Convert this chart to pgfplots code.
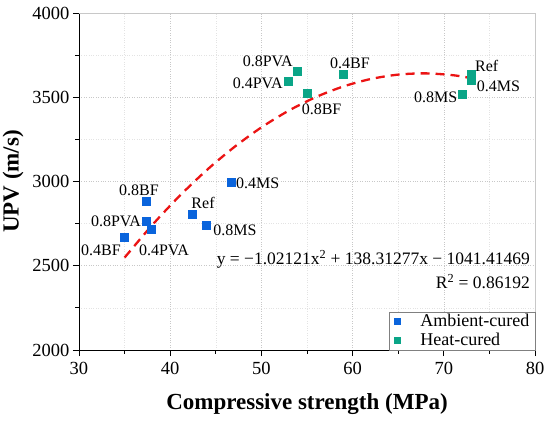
\documentclass[border=0pt]{standalone}
\usepackage{pgfplots}
\pgfplotsset{compat=1.18}
\usepackage{fontspec}
\setmainfont{Liberation Serif}
\usetikzlibrary{calc}
\definecolor{ambblue}{RGB}{10,100,220}
\definecolor{heatgreen}{RGB}{10,165,135}
\definecolor{fitred}{RGB}{235,20,20}
\definecolor{gridgray}{RGB}{200,200,200}
\begin{document}
\begin{tikzpicture}[x=1pt,y=1pt]
\begin{axis}[
  scale only axis, width=456pt, height=337pt,
  xmin=30, xmax=80, ymin=2000, ymax=4000,
  xtick={30,40,...,80}, ytick={2000,2500,...,4000},
  minor x tick num=1, minor y tick num=1,
  tick align=outside, tick pos=left,
  major tick length=6pt, minor tick length=3.5pt,
  every tick/.style={black, line width=0.8pt},
  grid=both,
  major grid style={gridgray, dotted, line width=0.6pt},
  minor grid style={gridgray!50, dotted, line width=0.5pt},
  axis line style={line width=0.9pt},
  axis x line*=bottom, axis y line*=left,
  /pgf/number format/assume math mode=true,
  /pgf/number format/set thousands separator={},
  ticklabel style={font=\fontsize{18.5}{20}\selectfont},
  xticklabel style={yshift=-3pt},
  xlabel={\textbf{Compressive strength (MPa)}},
  ylabel={\textbf{UPV (m/s)}},
  label style={font=\fontsize{23}{25}\selectfont},
  xlabel style={yshift=-12pt},
  ylabel style={yshift=2pt},
  legend style={at={(rel axis cs:1,0)}, anchor=south east, draw=gray, line width=0.5pt,
    font=\fontsize{18}{20}\selectfont, row sep=4pt, inner xsep=5pt, inner ysep=2pt,
    fill=white, nodes={inner sep=0.5pt}},
  legend cell align=left,
  legend image code/.code={\draw[#1, mark size=3pt] plot coordinates {(0.55cm,0cm)};},
  clip=false,
]
\draw[gridgray, line width=0.8pt] (rel axis cs:0,1) -- (rel axis cs:1,1) -- (rel axis cs:1,0);
\addplot[only marks, mark=square*, mark size=4pt, color=ambblue, mark options={draw=none, fill=ambblue}] coordinates {
 (35.0,2670) (37.4,2762) (37.9,2718) (37.4,2885) (42.4,2808) (43.9,2738) (46.7,2993)
};
\addlegendentry{\hspace{20pt}Ambient-cured}
\addplot[only marks, mark=square*, mark size=4pt, color=heatgreen, mark options={draw=none, fill=heatgreen}] coordinates {
 (53.9,3655) (52.9,3597) (55.0,3525) (59.0,3638) (72.0,3518) (73.0,3637) (73.0,3602)
};
\addlegendentry{\hspace{20pt}Heat-cured}
\addplot[fitred, line width=2.3pt, dash pattern=on 9pt off 6pt, smooth, forget plot] coordinates {
 (35,2548.55) (38,2739.84) (41,2912.76) (44,3067.28) (47,3203.43) (50,3321.20) (53,3420.58)
 (56,3501.59) (59,3564.21) (62,3608.45) (65,3634.30) (68,3641.78) (71,3630.87) (73,3613.39)
};
\coordinate (ll) at (rel axis cs:0,0);
\coordinate (ur) at (rel axis cs:1,1);
\begin{scope}[every node/.style={font=\fontsize{16}{18}\selectfont, inner sep=0pt}]
\node at (axis cs:36.58,2950) {0.8BF};
\node at (axis cs:34.06,2766) {0.8PVA};
\node at (axis cs:32.41,2593) {0.4BF};
\node at (axis cs:39.32,2593) {0.4PVA};
\node at (axis cs:43.6,2872) {Ref};
\node at (axis cs:47.1,2712) {0.8MS};
\node at (axis cs:49.6,2991) {0.4MS};
\node at (axis cs:50.7,3715) {0.8PVA};
\node at (axis cs:49.6,3585) {0.4PVA};
\node at (axis cs:56.6,3430) {0.8BF};
\node at (axis cs:59.7,3703) {0.4BF};
\node at (axis cs:69.1,3501) {0.8MS};
\node at (axis cs:74.7,3686) {Ref};
\node at (axis cs:76.0,3567) {0.4MS};
\node[anchor=east, font=\fontsize{17.5}{19}\selectfont] at (axis cs:79.45,2540) {y = \textminus1.02121x\textsuperscript{2} + 138.31277x \textminus\ 1041.41469};
\node[anchor=east, font=\fontsize{17.5}{19}\selectfont] at (axis cs:79.45,2404) {R\textsuperscript{2} = 0.86192};
\end{scope}
\end{axis}
\pgfresetboundingbox
\path[use as bounding box] ($(ll)+(-79pt,-71pt)$) rectangle ($(ur)+(15pt,13pt)$);
\end{tikzpicture}
\end{document}
